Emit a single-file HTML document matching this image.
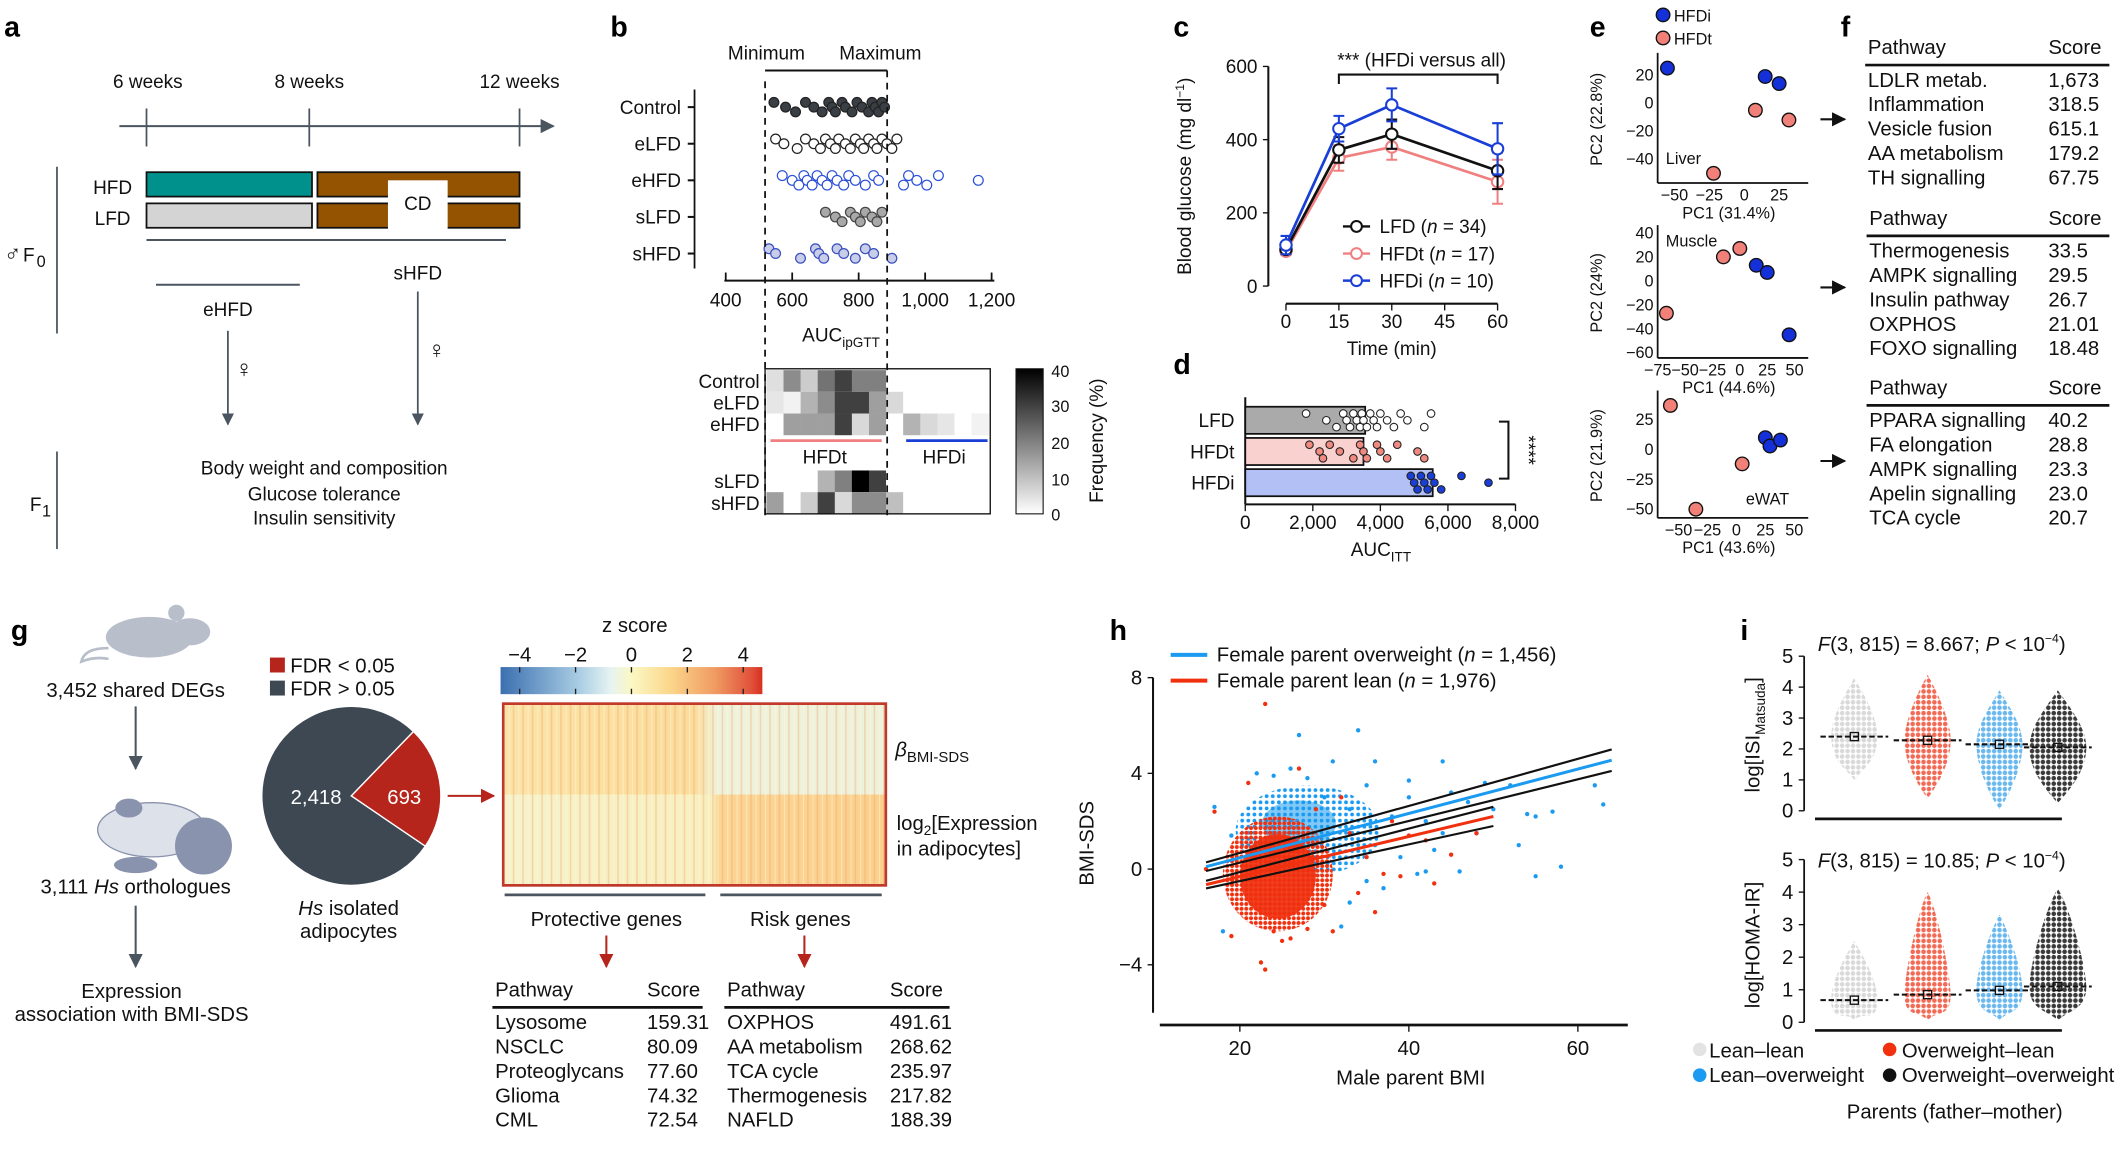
<!DOCTYPE html>
<html><head><meta charset="utf-8">
<style>
html,body{margin:0;padding:0;background:#fff;}
svg{display:block;font-family:"Liberation Sans",Arial,sans-serif;}
.t{font-size:14px;fill:#111;}
.lt{font-size:15px;fill:#111;}
.pl{font-size:21px;font-weight:bold;fill:#000;}
.s{font-size:12px;fill:#111;}
</style></head>
<body>
<svg id="fig" width="2127" height="1166" viewBox="0 0 1568 860" preserveAspectRatio="none" xmlns="http://www.w3.org/2000/svg">
<defs>
<marker id="ah" viewBox="0 0 10 10" refX="9" refY="5" markerWidth="7" markerHeight="7" orient="auto"><path d="M0,0L10,5L0,10z" fill="#4a5560"/></marker>
<marker id="ahr" viewBox="0 0 10 10" refX="9" refY="5" markerWidth="7" markerHeight="7" orient="auto"><path d="M0,0L10,5L0,10z" fill="#b5251c"/></marker>
<marker id="ahk" viewBox="0 0 10 10" refX="9" refY="5" markerWidth="7" markerHeight="7" orient="auto"><path d="M0,0L10,5L0,10z" fill="#111"/></marker>
<linearGradient id="gbar" x1="0" y1="1" x2="0" y2="0"><stop offset="0" stop-color="#fff"/><stop offset="1" stop-color="#000"/></linearGradient>
<linearGradient id="zbar" x1="0" x2="1"><stop offset="0" stop-color="#3b6fb0"/><stop offset="0.3" stop-color="#a9cde3"/><stop offset="0.42" stop-color="#e6f3f2"/><stop offset="0.5" stop-color="#fbf8c4"/><stop offset="0.65" stop-color="#fbd68a"/><stop offset="0.82" stop-color="#f09a62"/><stop offset="0.96" stop-color="#e0503a"/><stop offset="1" stop-color="#d7301f"/></linearGradient>
<linearGradient id="htop" x1="0" x2="1"><stop offset="0" stop-color="#fbe3a8"/><stop offset="0.5" stop-color="#fbdc9c"/><stop offset="0.56" stop-color="#eef2dc"/><stop offset="1" stop-color="#eef1dc"/></linearGradient>
<linearGradient id="hbot" x1="0" x2="1"><stop offset="0" stop-color="#f6f2cc"/><stop offset="0.55" stop-color="#f8efc0"/><stop offset="0.56" stop-color="#fbd596"/><stop offset="1" stop-color="#fbd08e"/></linearGradient>
<pattern id="stripes" width="7" height="10" patternUnits="userSpaceOnUse"><rect x="0" width="1.2" height="10" fill="#f0a060" opacity="0.35"/><rect x="4" width="0.8" height="10" fill="#fff8d0" opacity="0.5"/></pattern>
<pattern id="patg" width="4" height="4" patternUnits="userSpaceOnUse"><circle cx="2" cy="2" r="1.7" fill="#d9d9d9"/></pattern>
<pattern id="patr" width="4" height="4" patternUnits="userSpaceOnUse"><circle cx="2" cy="2" r="1.7" fill="#f26a55"/></pattern>
<pattern id="patb" width="4" height="4" patternUnits="userSpaceOnUse"><circle cx="2" cy="2" r="1.7" fill="#6ab8ee"/></pattern>
<pattern id="patk" width="4" height="4" patternUnits="userSpaceOnUse"><circle cx="2" cy="2" r="1.7" fill="#3a3a3a"/></pattern>
<pattern id="hpb" width="4.5" height="4.5" patternUnits="userSpaceOnUse"><circle cx="2.25" cy="2.25" r="1.4" fill="#1a9af0"/></pattern>
<pattern id="hpr" width="3.5" height="3.5" patternUnits="userSpaceOnUse"><circle cx="1.75" cy="1.75" r="1.5" fill="#f0300e"/></pattern>
</defs>

<!-- ===== Panel a ===== -->
<g>
<text class="pl" x="3" y="27">a</text>
<text class="t" x="109" y="65" text-anchor="middle">6 weeks</text>
<text class="t" x="228" y="65" text-anchor="middle">8 weeks</text>
<text class="t" x="383" y="65" text-anchor="middle">12 weeks</text>
<line x1="88" y1="93" x2="408" y2="93" stroke="#4a5560" stroke-width="1.5" marker-end="url(#ah)"/>
<line x1="108" y1="80" x2="108" y2="108" stroke="#4a5560" stroke-width="1.3"/>
<line x1="228" y1="80" x2="228" y2="108" stroke="#4a5560" stroke-width="1.3"/>
<line x1="383" y1="80" x2="383" y2="108" stroke="#4a5560" stroke-width="1.3"/>
<line x1="42" y1="123" x2="42" y2="246" stroke="#4a5560" stroke-width="1.3"/>
<text class="t" x="83" y="143" text-anchor="middle">HFD</text>
<text class="t" x="83" y="166" text-anchor="middle">LFD</text>
<rect x="108" y="127" width="122" height="18" fill="#00918c" stroke="#111" stroke-width="1.3"/>
<rect x="234" y="127" width="149" height="18" fill="#935300" stroke="#111" stroke-width="1.3"/>
<rect x="108" y="150" width="122" height="18" fill="#d4d4d4" stroke="#111" stroke-width="1.3"/>
<rect x="234" y="150" width="149" height="18" fill="#935300" stroke="#111" stroke-width="1.3"/>
<rect x="286" y="133" width="44" height="36" fill="#fff"/>
<text class="t" x="308" y="155" text-anchor="middle">CD</text>
<line x1="108" y1="177" x2="373" y2="177" stroke="#4a5560" stroke-width="1.5"/>
<text x="3" y="193" font-size="17" fill="#111">♂</text><text class="t" x="17" y="193">F</text><text class="s" x="27" y="197" font-size="9">0</text>
<line x1="115" y1="210" x2="221" y2="210" stroke="#4a5560" stroke-width="1.5"/>
<text class="t" x="168" y="233" text-anchor="middle">eHFD</text>
<text class="t" x="308" y="206" text-anchor="middle">sHFD</text>
<line x1="168" y1="244" x2="168" y2="313" stroke="#4a5560" stroke-width="1.3" marker-end="url(#ah)"/>
<line x1="308" y1="215" x2="308" y2="313" stroke="#4a5560" stroke-width="1.3" marker-end="url(#ah)"/>
<text x="180" y="278" text-anchor="middle" font-size="18" fill="#111">♀</text>
<text x="322" y="264" text-anchor="middle" font-size="18" fill="#111">♀</text>
<line x1="42" y1="333" x2="42" y2="405" stroke="#4a5560" stroke-width="1.3"/>
<text class="t" x="22" y="377">F</text><text class="s" x="31" y="381" font-size="9">1</text>
<text class="t" x="239" y="350" text-anchor="middle">Body weight and composition</text>
<text class="t" x="239" y="369" text-anchor="middle">Glucose tolerance</text>
<text class="t" x="239" y="387" text-anchor="middle">Insulin sensitivity</text>
</g>

<!-- ===== Panel b ===== -->
<g id="panelb">
<text class="pl" x="450" y="27">b</text>
<text class="t" x="565" y="44" text-anchor="middle">Minimum</text>
<text class="t" x="649" y="44" text-anchor="middle">Maximum</text>
<line x1="564" y1="52" x2="654" y2="52" stroke="#111" stroke-width="1.5"/>
<line x1="512" y1="66" x2="512" y2="198" stroke="#111" stroke-width="1.3"/>
<line x1="534" y1="207" x2="733" y2="207" stroke="#111" stroke-width="1.5"/>
<text class="t" x="620" y="252" text-anchor="middle">AUC<tspan font-size="10" dy="4">ipGTT</tspan></text>
<rect x="749" y="272" width="20" height="107" fill="url(#gbar)" stroke="#111" stroke-width="0.8"/>
<text class="s" x="775" y="278">40</text><text class="s" x="775" y="304">30</text><text class="s" x="775" y="331">20</text><text class="s" x="775" y="358">10</text><text class="s" x="775" y="384">0</text>
<text class="t" x="813" y="325" text-anchor="middle" transform="rotate(-90 813 325)">Frequency (%)</text>
<line x1="568" y1="325" x2="650" y2="325" stroke="#f08080" stroke-width="2"/>
<line x1="668" y1="325" x2="728" y2="325" stroke="#1a3fd6" stroke-width="2"/>
<text class="t" x="608" y="342" text-anchor="middle">HFDt</text>
<text class="t" x="696" y="342" text-anchor="middle">HFDi</text>
</g>

<!-- ===== Panel c ===== -->
<g id="panelc">
<text class="pl" x="865" y="27">c</text>
<text class="t" x="878" y="130" text-anchor="middle" transform="rotate(-90 878 130)">Blood glucose (mg dl<tspan font-size="9" dy="-5">−1</tspan><tspan dy="5">)</tspan></text>
<text class="t" x="1026" y="262" text-anchor="middle">Time (min)</text>
<text class="t" x="1048" y="49" text-anchor="middle">*** (HFDi versus all)</text>
<path d="M987,62V55H1104V62" fill="none" stroke="#111" stroke-width="1.5"/>
</g>

<!-- ===== Panel d ===== -->
<g id="paneld">
<text class="pl" x="865" y="276">d</text>
<text class="t" x="1018" y="410" text-anchor="middle">AUC<tspan font-size="10" dy="4">ITT</tspan></text>
<path d="M1105,311H1112V353H1105" fill="none" stroke="#111" stroke-width="1.5"/>
<text class="t" x="1122" y="332" text-anchor="middle" transform="rotate(90 1122 332)">****</text>
</g>

<!-- ===== Panel e ===== -->
<g id="panele">
<text class="pl" x="1172" y="27">e</text>
<circle cx="1226" cy="11" r="5" fill="#1430d8" stroke="#111"/><text class="s" x="1234" y="16">HFDi</text>
<circle cx="1226" cy="28" r="5" fill="#f08078" stroke="#111"/><text class="s" x="1234" y="33">HFDt</text>
<path d="M1342,88h18" stroke="#111" stroke-width="1.5" marker-end="url(#ahk)"/>
<path d="M1342,212h18" stroke="#111" stroke-width="1.5" marker-end="url(#ahk)"/>
<path d="M1342,340h18" stroke="#111" stroke-width="1.5" marker-end="url(#ahk)"/>
</g>

<!-- ===== Panel f ===== -->
<g id="panelf">
<text class="pl" x="1357" y="27">f</text>
</g>

<!-- ===== Panel g ===== -->
<g id="panelg">
<text class="pl" x="8" y="472">g</text>
<g fill="#b8bfcb">
<ellipse cx="110" cy="470" rx="32" ry="15"/><ellipse cx="140" cy="466" rx="15" ry="10"/><circle cx="130" cy="452" r="6"/>
<path d="M80,478 Q62,478 60,488 Q70,484 80,486" fill="none" stroke="#b8bfcb" stroke-width="2"/>
</g>
<text class="lt" x="100" y="514" text-anchor="middle">3,452 shared DEGs</text>
<line x1="100" y1="521" x2="100" y2="567" stroke="#4a5560" stroke-width="1.5" marker-end="url(#ah)"/>
<g>
<ellipse cx="112" cy="612" rx="40" ry="20" fill="#dde1ea" stroke="#8a93ad"/>
<circle cx="150" cy="624" r="21" fill="#8a93ad"/>
<ellipse cx="100" cy="638" rx="16" ry="6" fill="#8a93ad"/>
<ellipse cx="95" cy="596" rx="10" ry="7" fill="#8a93ad"/>
</g>
<text class="lt" x="100" y="659" text-anchor="middle">3,111 <tspan font-style="italic">Hs</tspan> orthologues</text>
<line x1="100" y1="668" x2="100" y2="713" stroke="#4a5560" stroke-width="1.5" marker-end="url(#ah)"/>
<text class="lt" x="97" y="736" text-anchor="middle">Expression</text>
<text class="lt" x="97" y="753" text-anchor="middle">association with BMI-SDS</text>
<rect x="199" y="485" width="11" height="11" fill="#b5251c"/><text class="lt" x="214" y="496">FDR &lt; 0.05</text>
<rect x="199" y="502" width="11" height="11" fill="#3d4853"/><text class="lt" x="214" y="513">FDR &gt; 0.05</text>
<text class="lt" x="257" y="675" text-anchor="middle"><tspan font-style="italic">Hs</tspan> isolated</text>
<text class="lt" x="257" y="692" text-anchor="middle">adipocytes</text>
<line x1="330" y1="587" x2="364" y2="587" stroke="#b5251c" stroke-width="1.5" marker-end="url(#ahr)"/>
<text class="lt" x="468" y="466" text-anchor="middle">z score</text>
<rect x="369" y="492" width="193" height="20" fill="url(#zbar)"/>
<rect x="371" y="519" width="282" height="134" fill="#fff" stroke="#c0392b" stroke-width="2"/>
<rect x="372" y="520" width="280" height="66" fill="url(#htop)"/>
<rect x="372" y="586" width="280" height="66" fill="url(#hbot)"/>
<rect x="372" y="520" width="280" height="132" fill="url(#stripes)"/>
<text class="lt" x="660" y="558" font-style="italic">β<tspan font-style="normal" font-size="11" dy="4">BMI-SDS</tspan></text>
<text class="lt" x="661" y="612">log<tspan font-size="10" dy="4">2</tspan><tspan dy="-4">[Expression</tspan></text>
<text class="lt" x="661" y="631">in adipocytes]</text>
<line x1="372" y1="660" x2="520" y2="660" stroke="#4a5560" stroke-width="2"/>
<line x1="531" y1="660" x2="650" y2="660" stroke="#4a5560" stroke-width="2"/>
<text class="lt" x="447" y="683" text-anchor="middle">Protective genes</text>
<text class="lt" x="590" y="683" text-anchor="middle">Risk genes</text>
<line x1="447" y1="690" x2="447" y2="713" stroke="#b5251c" stroke-width="1.5" marker-end="url(#ahr)"/>
<line x1="593" y1="690" x2="593" y2="713" stroke="#b5251c" stroke-width="1.5" marker-end="url(#ahr)"/>
</g>

<!-- ===== Panel h ===== -->
<g id="panelh">
<text class="pl" x="818" y="472">h</text>
<line x1="863" y1="483" x2="890" y2="483" stroke="#1a9af0" stroke-width="3"/>
<text class="lt" x="897" y="488">Female parent overweight (<tspan font-style="italic">n</tspan> = 1,456)</text>
<line x1="863" y1="502" x2="890" y2="502" stroke="#f0300e" stroke-width="3"/>
<text class="lt" x="897" y="507">Female parent lean (<tspan font-style="italic">n</tspan> = 1,976)</text>
<text class="lt" x="806" y="622" text-anchor="middle" transform="rotate(-90 806 622)">BMI-SDS</text>
<text class="lt" x="1040" y="800" text-anchor="middle">Male parent BMI</text>
</g>

<!-- ===== Panel i ===== -->
<g id="paneli">
<text class="pl" x="1283" y="472">i</text>
<text class="lt" x="1340" y="480"><tspan font-style="italic">F</tspan>(3, 815) = 8.667; <tspan font-style="italic">P</tspan> &lt; 10<tspan font-size="9" dy="-6">−4</tspan><tspan dy="6">)</tspan></text>
<text class="lt" x="1340" y="640"><tspan font-style="italic">F</tspan>(3, 815) = 10.85; <tspan font-style="italic">P</tspan> &lt; 10<tspan font-size="9" dy="-6">−4</tspan><tspan dy="6">)</tspan></text>
<text class="lt" x="1297" y="542" text-anchor="middle" transform="rotate(-90 1297 542)">log[ISI<tspan font-size="10" dy="4">Matsuda</tspan><tspan dy="-4">]</tspan></text>
<text class="lt" x="1297" y="697" text-anchor="middle" transform="rotate(-90 1297 697)">log[HOMA-IR]</text>
<circle cx="1253" cy="774" r="5" fill="#e3e3e3"/><text class="lt" x="1260" y="780">Lean–lean</text>
<circle cx="1393" cy="774" r="5" fill="#f0300e"/><text class="lt" x="1402" y="780">Overweight–lean</text>
<circle cx="1253" cy="793" r="5" fill="#1a9af0"/><text class="lt" x="1260" y="798">Lean–overweight</text>
<circle cx="1393" cy="793" r="5" fill="#111"/><text class="lt" x="1402" y="798">Overweight–overweight</text>
<text class="lt" x="1441" y="825" text-anchor="middle">Parents (father–mother)</text>
</g>

<script>
// ---------- data ----------
var bRows = ['Control','eLFD','eHFD','sLFD','sHFD'];
var bControl = [545,580,610,640,665,690,710,720,730,750,760,780,795,810,830,840,850,860,870,878];
var bELFD = [550,575,615,640,665,685,700,715,730,740,760,775,790,805,815,830,845,855,870,885,900,915];
var bEHFD = [570,600,620,635,645,660,675,690,705,720,735,755,770,790,820,845,860,935,950,975,1005,1040,1160];
var bSLFD = [700,730,750,775,790,805,820,840,855,870];
var bSHFD = [530,550,625,670,680,695,735,755,790,820,845,900];
var hmRows = ['Control','eLFD','eHFD','sLFD','sHFD'];
var hmControl = [5,18,8,22,30,20,20,0,0,0,0,0,0];
var hmELFD = [4,2,12,18,30,30,15,6,0,0,0,0,0];
var hmEHFD = [0,15,15,15,30,6,15,0,12,6,4,0,2];
var hmSLFD = [0,0,0,12,20,40,30,0,0,0,0,0,0];
var hmSHFD = [15,0,8,30,6,18,18,10,0,0,0,0,0];

var cTimes = [0,15,30,60];
var cLFD = [100,372,415,315]; var cLFDerr = [12,35,40,50];
var cHFDt = [95,350,380,285]; var cHFDterr = [10,35,35,60];
var cHFDi = [112,430,495,375]; var cHFDierr = [25,35,45,70];
var cYTicks = [0,200,400,600]; var cXTicks = [0,15,30,45,60];

var dGroups = ['LFD','HFDt','HFDi'];
var dMeans = [3550,3500,5550];
var dLFDpts = [1800,2400,2700,2900,3000,3100,3200,3300,3400,3450,3500,3600,3700,3800,3900,4000,4200,4400,4600,4800,5300,5500];
var dHFDtpts = [1900,2200,2300,2500,2800,3200,3400,3500,3600,3900,4000,4200,4500,5100,5300];
var dHFDipts = [4900,5000,5100,5200,5300,5400,5500,5600,5800,6400,7200];
var dTicks = [0,2000,4000,6000,8000];

var eLiverBlue = [[-55,25],[15,19],[25,14]]; var eLiverPink = [[8,-5],[32,-12],[-22,-50]];
var eMuscleBlue = [[15,13],[25,7],[45,-45]]; var eMusclePink = [[-15,20],[0,27],[-67,-27]];
var eWatBlue = [[25,10],[29,3],[38,8]]; var eWatPink = [[-57,37],[5,-12],[-35,-50]];

var fTables = [
 [['LDLR metab.','1,673'],['Inflammation','318.5'],['Vesicle fusion','615.1'],['AA metabolism','179.2'],['TH signalling','67.75']],
 [['Thermogenesis','33.5'],['AMPK signalling','29.5'],['Insulin pathway','26.7'],['OXPHOS','21.01'],['FOXO signalling','18.48']],
 [['PPARA signalling','40.2'],['FA elongation','28.8'],['AMPK signalling','23.3'],['Apelin signalling','23.0'],['TCA cycle','20.7']]];
var gPie = [2418,693];
var gProtective = [['Lysosome','159.31'],['NSCLC','80.09'],['Proteoglycans','77.60'],['Glioma','74.32'],['CML','72.54']];
var gRisk = [['OXPHOS','491.61'],['AA metabolism','268.62'],['TCA cycle','235.97'],['Thermogenesis','217.82'],['NAFLD','188.39']];
var zTicks = [-4,-2,0,2,4];

var hBluePts = [[30,3],[33,2.5],[35,3.5],[38,2.2],[40,3],[42,2],[44,1.5],[45,3.2],[47,2.8],[50,2.5],[52,3.5],[55,2.2],[57,2.4],[62,3.5],[63,2.7],[36,1],[39,0.5],[43,0.8],[48,1.5],[53,1],[46,-0.1],[58,0.1],[34,5.8],[27,5.6],[31,4.5],[26,4.2],[22,4],[37,-0.8],[41,-0.2],[55,-0.3],[32,-2.4],[18,-2.6],[44,4.5],[28,3.8],[24,3.9],[35,-0.5],[49,3.6],[54,2.3],[36,4.5],[40,3.7],[17,2.6],[19,1.4],[42,-0.1],[33,-1.4]];
var hRedPts = [[22.5,-3.9],[23,-4.2],[25,-3],[19,-2.8],[28,-2.5],[30,-1.5],[33,1.5],[35,0.5],[38,2],[40,1.4],[42,1.2],[45,0.6],[48,1.5],[36,-1.8],[32,3],[17,2.4],[21,3.6],[23,6.9],[27,4.2],[31,-2.6],[26,-2.9],[34,-1],[39,-0.3],[29,2.5],[16,0],[24,-2.6],[43,-0.6],[37,-0.2]];
var hBlueBlob = [28,1.6,8.5,1.9];
var hRedBlob = [24.5,-0.2,6.5,2.4];
var hBlueFit = [[16,0.1],[64,4.55]]; var hRedFit = [[16,-0.65],[50,2.2]];
var hYTicks = [-4,0,4,8]; var hXTicks = [20,40,60];

var iGroups = ['Lean–lean','Overweight–lean','Lean–overweight','Overweight–overweight'];
var iISImed = [2.4,2.28,2.15,2.05]; var iISImin = [1.0,0.4,0.05,0.25]; var iISImax = [4.3,4.4,3.9,3.9];
var iHOMAmed = [0.68,0.85,0.98,1.1]; var iHOMAmin = [0.05,0.05,0.05,0.05]; var iHOMAmax = [2.5,4.0,3.3,4.1];

// ---------- helpers ----------
var NS='http://www.w3.org/2000/svg', svg=document.getElementById('fig');
function mk(tag,attrs,parent,txt){var e=document.createElementNS(NS,tag);for(var k in attrs)e.setAttribute(k,attrs[k]);if(txt!==undefined)e.textContent=txt;(parent||svg).appendChild(e);return e;}

// ---------- b ----------
var gb=document.getElementById('panelb');
var bx=function(v){return 535+(v-400)*0.245;};
[400,600,800,1000,1200].forEach(function(v){
 var l=mk('line',{x1:bx(v),y1:207,x2:bx(v),y2:201,stroke:'#111','stroke-width':1.3},gb);
 
 
 var t=mk('text',{x:bx(v),y:226,'text-anchor':'middle','class':'t'},gb,v.toLocaleString('en-US'));
 
 
});
var bData=[bControl,bELFD,bEHFD,bSLFD,bSHFD];
var bFill=['#3a3f45','#fff','#fff','#a8a8a8','#c8cde8'];
var bStroke=['#222','#222','#2a4fd8','#444','#3a4fc0'];
bRows.forEach(function(r,i){
 var y=79+i*27;
 var t=mk('text',{x:502,y:y+5,'text-anchor':'end','class':'t'},gb,r);
 
 
 mk('line',{x1:507,y1:y,x2:512,y2:y,stroke:'#111','stroke-width':1.5},gb);
 bData[i].forEach(function(v,j){
  var c=mk('circle',{cx:bx(v),cy:y+((j%3)-1)*3.5,r:3.6,fill:bFill[i],stroke:bStroke[i],'stroke-width':0.9},gb);
  
  
 });
});
var hmData=[hmControl,hmELFD,hmEHFD,hmSLFD,hmSHFD];
var hmY=[273,289,305,347,363];
hmRows.forEach(function(r,i){
 var t=mk('text',{x:560,y:hmY[i]+13,'text-anchor':'end','class':'t'},gb,r);
 
 
 hmData[i].forEach(function(v,j){
  var g=Math.round(255-v/40*255);
  var c=mk('rect',{x:565+j*12.6,y:hmY[i],width:12.8,height:16,fill:'rgb('+g+','+g+','+g+')'},gb);
  
  
 });
});
mk('rect',{x:564,y:272,width:166,height:107,fill:'none',stroke:'#111','stroke-width':1},gb);
mk('line',{x1:564,y1:60,x2:564,y2:380,stroke:'#111','stroke-width':1.3,'stroke-dasharray':'5,4'},gb);
mk('line',{x1:654,y1:52,x2:654,y2:380,stroke:'#111','stroke-width':1.3,'stroke-dasharray':'5,4'},gb);

// ---------- c ----------
var gc=document.getElementById('panelc');
var cx=function(t){return 948+t*2.6;}, cy=function(v){return 211-v*0.27;};
mk('line',{x1:935,y1:cy(600),x2:935,y2:cy(0),stroke:'#111','stroke-width':1.5},gc);
mk('line',{x1:cx(0),y1:224,x2:cx(60),y2:224,stroke:'#111','stroke-width':1.5},gc);
cYTicks.forEach(function(v){mk('line',{x1:931,y1:cy(v),x2:935,y2:cy(v),stroke:'#111'},gc);
 var t=mk('text',{x:927,y:cy(v)+5,'text-anchor':'end','class':'t'},gc,v);
 
 });
cXTicks.forEach(function(v){mk('line',{x1:cx(v),y1:224,x2:cx(v),y2:229,stroke:'#111'},gc);
 var t=mk('text',{x:cx(v),y:242,'text-anchor':'middle','class':'t'},gc,v);
 
 });
[[cHFDt,cHFDterr,'#f08080','hfdt'],[cLFD,cLFDerr,'#111','lfd'],[cHFDi,cHFDierr,'#1a3fd6','hfdi']].forEach(function(s){
 var d='';cTimes.forEach(function(t,i){d+=(i?'L':'M')+cx(t)+','+cy(s[0][i]);});
 var p=mk('path',{d:d,fill:'none',stroke:s[2],'stroke-width':2},gc);
 
 
 cTimes.forEach(function(t,i){
  mk('path',{d:'M'+cx(t)+','+cy(s[0][i]-s[1][i])+'V'+cy(s[0][i]+s[1][i])+'M'+(cx(t)-4)+','+cy(s[0][i]+s[1][i])+'h8M'+(cx(t)-4)+','+cy(s[0][i]-s[1][i])+'h8',stroke:s[2],'stroke-width':1.5,fill:'none'},gc);
  var c=mk('circle',{cx:cx(t),cy:cy(s[0][i]),r:4.2,fill:'#fff',stroke:s[2],'stroke-width':1.5},gc);
  
  
 });
});
[['LFD','34','#111'],['HFDt','17','#f08080'],['HFDi','10','#1a3fd6']].forEach(function(l,i){
 var y=167+i*20;
 mk('line',{x1:990,y1:y,x2:1010,y2:y,stroke:l[2],'stroke-width':1.8},gc);
 mk('circle',{cx:1000,cy:y,r:4,fill:'#fff',stroke:l[2],'stroke-width':1.5},gc);
 var t=mk('text',{x:1017,y:y+5,'class':'t'},gc);
 
 
 mk('tspan',{},t,l[0]+' (');
 mk('tspan',{'font-style':'italic'},t,'n');
 mk('tspan',{},t,' = '+l[1]+')');
});

// ---------- d ----------
var gd=document.getElementById('paneld');
var dx=function(v){return 918+v*0.0249;};
mk('line',{x1:dx(0),y1:293,x2:dx(0),y2:372,stroke:'#111','stroke-width':1.5},gd);
mk('line',{x1:dx(0),y1:372,x2:dx(8000),y2:372,stroke:'#111','stroke-width':1.5},gd);
dTicks.forEach(function(v){mk('line',{x1:dx(v),y1:372,x2:dx(v),y2:377,stroke:'#111'},gd);
 var t=mk('text',{x:dx(v),y:390,'text-anchor':'middle','class':'t'},gd,v.toLocaleString('en-US'));
 
 });
var dFill=['#aaaaaa','#f9d2d0','#b3c0f5'], dDot=['#fff','#f08a80','#1a3fd6'];
var dPts=[dLFDpts,dHFDtpts,dHFDipts];
dGroups.forEach(function(g,i){
 var y=300+i*23;
 var t=mk('text',{x:910,y:y+15,'text-anchor':'end','class':'t'},gd,g);
 
 
 var r=mk('rect',{x:dx(0),y:y,width:dx(dMeans[i])-dx(0),height:20,fill:dFill[i],stroke:'#111','stroke-width':1.3},gd);
 
 
 dPts[i].forEach(function(v,j){
  var c=mk('circle',{cx:dx(v),cy:y+10+((j%3)-1)*5,r:2.8,fill:dDot[i],stroke:'#222','stroke-width':0.8},gd);
  
  
 });
});

// ---------- e ----------
var ge=document.getElementById('panele');
function pca(o){
 var X=function(v){return o.x0+(v-o.xmin)/(o.xmax-o.xmin)*o.w;}, Y=function(v){return o.y1-(v-o.ymin)/(o.ymax-o.ymin)*o.h;};
 mk('line',{x1:o.x0,y1:o.y1-o.h-4,x2:o.x0,y2:o.y1+2,stroke:'#111','stroke-width':1.3},ge);
 mk('line',{x1:o.x0,y1:o.y1+2,x2:o.x0+o.w+6,y2:o.y1+2,stroke:'#111','stroke-width':1.3},ge);
 o.yt.forEach(function(v){var t=mk('text',{x:o.x0-3,y:Y(v)+4,'text-anchor':'end','class':'s'},ge,String(v).replace('-','−'));
  
  });
 o.xt.forEach(function(v){var t=mk('text',{x:X(v),y:o.y1+15,'text-anchor':'middle','class':'s'},ge,String(v).replace('-','−'));
  
  });
 mk('text',{x:o.x0+o.w/2,y:o.y1+28,'text-anchor':'middle','class':'s'},ge,o.xl);
 mk('text',{x:1181,y:o.y1-o.h/2,'text-anchor':'middle','class':'s',transform:'rotate(-90 1181 '+(o.y1-o.h/2)+')'},ge,o.yl);
 mk('text',{x:o.lx,y:o.ly,'class':'s'},ge,o.label);
 o.blue.forEach(function(p){var c=mk('circle',{cx:X(p[0]),cy:Y(p[1]),r:5,fill:'#1430d8',stroke:'#111'},ge);
  
  });
 o.pink.forEach(function(p){var c=mk('circle',{cx:X(p[0]),cy:Y(p[1]),r:5,fill:'#f08078',stroke:'#111'},ge);
  
  });
}
pca({x0:1222,y1:133,w:105,h:90,xmin:-62,xmax:40,ymin:-55,ymax:32,yt:[20,0,-20,-40],xt:[-50,-25,0,25],xl:'PC1 (31.4%)',yl:'PC2 (22.8%)',label:'Liver',lx:1228,ly:121,blue:eLiverBlue,pink:eLiverPink});
pca({x0:1222,y1:262,w:105,h:92,xmin:-75,xmax:55,ymin:-62,ymax:42,yt:[40,20,0,-20,-40,-60],xt:[-75,-50,-25,0,25,50],xl:'PC1 (44.6%)',yl:'PC2 (24%)',label:'Muscle',lx:1228,ly:182,blue:eMuscleBlue,pink:eMusclePink});
pca({x0:1222,y1:380,w:105,h:88,xmin:-68,xmax:55,ymin:-55,ymax:45,yt:[25,0,-25,-50],xt:[-50,-25,0,25,50],xl:'PC1 (43.6%)',yl:'PC2 (21.9%)',label:'eWAT',lx:1287,ly:372,blue:eWatBlue,pink:eWatPink});

// ---------- tables ----------
function table(g,x,y,sx,w,rows,dy,cls){
 mk('text',{x:x,y:y,'class':cls},g,'Pathway');
 mk('text',{x:sx,y:y,'class':cls},g,'Score');
 mk('line',{x1:x-2,y1:y+8,x2:x+w,y2:y+8,stroke:'#111','stroke-width':2},g);
 rows.forEach(function(r,i){
  var a=mk('text',{x:x,y:y+24+i*dy,'class':cls},g,r[0]);
  
  
  var b=mk('text',{x:sx,y:y+24+i*dy,'class':cls},g,r[1]);
  
  
 });
}
var gf=document.getElementById('panelf');
table(gf,1377,40,1510,178,fTables[0],18,'lt');
table(gf,1378,166,1510,177,fTables[1],18,'lt');
table(gf,1378,291,1510,177,fTables[2],18,'lt');
var gg=document.getElementById('panelg');
table(gg,365,735,477,153,gProtective,18,'lt');
table(gg,536,735,656,164,gRisk,18,'lt');

// ---------- g pie ----------
var tot=gPie[0]+gPie[1], a0=-46*Math.PI/180, a1=a0+gPie[1]/tot*2*Math.PI, pcx=259,pcy=587,R=66;
var big=mk('path',{d:'M'+pcx+','+pcy+'L'+(pcx+R*Math.cos(a1))+','+(pcy+R*Math.sin(a1))+'A'+R+','+R+' 0 1 1 '+(pcx+R*Math.cos(a0))+','+(pcy+R*Math.sin(a0))+'Z',fill:'#3d4853',stroke:'#fff','stroke-width':1},gg);


var sm=mk('path',{d:'M'+pcx+','+pcy+'L'+(pcx+R*Math.cos(a0))+','+(pcy+R*Math.sin(a0))+'A'+R+','+R+' 0 0 1 '+(pcx+R*Math.cos(a1))+','+(pcy+R*Math.sin(a1))+'Z',fill:'#b5251c',stroke:'#fff','stroke-width':1},gg);


mk('text',{x:233,y:593,'text-anchor':'middle','class':'lt',style:'fill:#fff'},gg,gPie[0].toLocaleString('en-US'));
mk('text',{x:298,y:593,'text-anchor':'middle','class':'lt',style:'fill:#fff'},gg,String(gPie[1]));
zTicks.forEach(function(v){var x=465.5+v*20.6;
 mk('line',{x1:x,y1:492,x2:x,y2:496,stroke:'#222'},gg);mk('line',{x1:x,y1:508,x2:x,y2:512,stroke:'#222'},gg);
 var t=mk('text',{x:x,y:488,'text-anchor':'middle','class':'lt'},gg,v<0?'−'+(-v):String(v));
 
 });

// ---------- h ----------
var gh=document.getElementById('panelh');
var hx=function(v){return 914+(v-20)*6.23;}, hy=function(v){return 641-v*17.65;};
mk('line',{x1:850,y1:hy(8),x2:850,y2:747,stroke:'#111','stroke-width':1.5},gh);
mk('line',{x1:855,y1:756,x2:1200,y2:756,stroke:'#111','stroke-width':2},gh);
hYTicks.forEach(function(v){mk('line',{x1:846,y1:hy(v),x2:850,y2:hy(v),stroke:'#111'},gh);
 var t=mk('text',{x:842,y:hy(v)+5,'text-anchor':'end','class':'lt'},gh,v<0?'−'+(-v):String(v));
 
 });
hXTicks.forEach(function(v){mk('line',{x1:hx(v),y1:756,x2:hx(v),y2:761,stroke:'#111'},gh);
 var t=mk('text',{x:hx(v),y:778,'text-anchor':'middle','class':'lt'},gh,v);
 
 });
var bb=mk('ellipse',{cx:hx(hBlueBlob[0]),cy:hy(hBlueBlob[1]),rx:hBlueBlob[2]*6.23,ry:hBlueBlob[3]*17.65,fill:'url(#hpb)'},gh);


mk('ellipse',{cx:hx(hBlueBlob[0]-1),cy:hy(hBlueBlob[1]+0.3),rx:hBlueBlob[2]*3.2,ry:hBlueBlob[3]*9,fill:'#1a9af0',opacity:0.55},gh);
hBluePts.forEach(function(p){var c=mk('circle',{cx:hx(p[0]),cy:hy(p[1]),r:1.6,fill:'#1a9af0'},gh);
 
 });
var rb=mk('ellipse',{cx:hx(hRedBlob[0]),cy:hy(hRedBlob[1]),rx:hRedBlob[2]*6.23,ry:hRedBlob[3]*17.65,fill:'url(#hpr)'},gh);


mk('ellipse',{cx:hx(hRedBlob[0]),cy:hy(hRedBlob[1]-0.1),rx:hRedBlob[2]*4.3,ry:hRedBlob[3]*13,fill:'#f0300e',opacity:0.92},gh);
hRedPts.forEach(function(p){var c=mk('circle',{cx:hx(p[0]),cy:hy(p[1]),r:1.6,fill:'#f0300e'},gh);
 
 });
[[hBlueFit,'#1a9af0',0.45],[hRedFit,'#f0300e',0.4]].forEach(function(f){
 var a=f[0][0],b=f[0][1];
 [-1,1].forEach(function(s){
  mk('line',{x1:hx(a[0]),y1:hy(a[1]+s*f[2]*0.4),x2:hx(b[0]),y2:hy(b[1]+s*f[2]),stroke:'#111','stroke-width':1.6},gh);
 });
 var l=mk('line',{x1:hx(a[0]),y1:hy(a[1]),x2:hx(b[0]),y2:hy(b[1]),stroke:f[1],'stroke-width':2.2},gh);
 
 
});

// ---------- i ----------
var gi=document.getElementById('paneli');
var iX=[1367,1421,1474,1517], iPat=['url(#patg)','url(#patr)','url(#patb)','url(#patk)'];
function swarm(y0,sc,axTop,med,mn,mx,pre){
 var Y=function(v){return y0-v*sc;};
 mk('line',{x1:1330,y1:Y(5),x2:1330,y2:Y(0),stroke:'#111','stroke-width':1.3},gi);
 mk('line',{x1:1338,y1:Y(0)+6,x2:1520,y2:Y(0)+6,stroke:'#111','stroke-width':2},gi);
 [0,1,2,3,4,5].forEach(function(v){mk('line',{x1:1326,y1:Y(v),x2:1330,y2:Y(v),stroke:'#111'},gi);
  var t=mk('text',{x:1322,y:Y(v)+5,'text-anchor':'end','class':'lt'},gi,v);
  
  });
 iX.forEach(function(x,i){
  var top=Y(mx[i]),bot=Y(mn[i]),m=Y(med[i]),w=i===3?21:17;
  var d='M'+x+','+top+'C'+(x+w*0.4)+','+(top+12)+' '+(x+w)+','+(m-15)+' '+(x+w)+','+m+'C'+(x+w)+','+(m+18)+' '+(x+w*0.35)+','+(bot-8)+' '+x+','+bot+'C'+(x-w*0.35)+','+(bot-8)+' '+(x-w)+','+(m+18)+' '+(x-w)+','+m+'C'+(x-w)+','+(m-15)+' '+(x-w*0.4)+','+(top+12)+' '+x+','+top+'Z';
  var p=mk('path',{d:d,fill:iPat[i]},gi);
  
  
  var l=mk('line',{x1:x-25,y1:m,x2:x+25,y2:m,stroke:'#111','stroke-width':1.5,'stroke-dasharray':'4,2'},gi);
  
  
  mk('rect',{x:x-3,y:m-3,width:6,height:6,fill:'none',stroke:'#111'},gi);
 });
}
swarm(598,22.8,485,iISImed,iISImin,iISImax,'isi');
swarm(754,24,635,iHOMAmed,iHOMAmin,iHOMAmax,'homa');
</script>
</svg>
</body></html>
